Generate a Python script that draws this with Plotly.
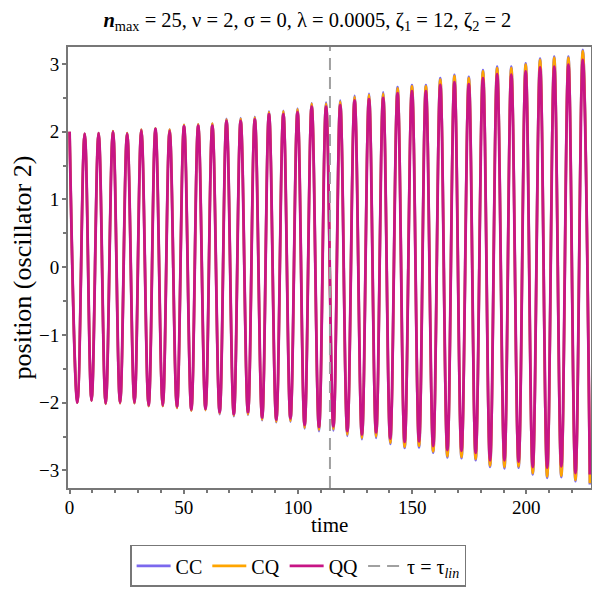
import plotly.graph_objects as go

# times of successive extrema (peak, trough, peak, ...)
ext_t = [0, 3.4, 6.6, 9.6, 12.7, 15.8, 19.0, 22.1, 25.2, 28.4, 31.4, 34.6, 37.6, 40.8,
         43.8, 47.0, 50.1, 53.3, 56.3, 59.5, 62.5, 65.7, 68.7, 71.9, 74.9, 78.1, 81.1,
         84.3, 87.3, 90.5, 93.6, 96.7, 99.8, 102.9, 106.0, 109.2, 112.3, 115.5, 118.5,
         121.6, 124.8, 128.0, 131.1, 134.2, 137.3, 140.4, 143.6, 146.7, 149.9, 153.0,
         156.0, 159.2, 162.3, 165.4, 168.5, 171.6, 174.8, 177.8, 181.0, 184.1, 187.2,
         190.4, 193.4, 196.6, 199.7, 202.8, 206.0, 209.1, 212.2, 215.3, 218.4, 221.5,
         224.7, 227.8]

cc_vals = [2.00, -2.00, 1.97, -1.97, 1.98, -2.02, 2.01, -2.01, 1.98, -2.01, 2.03, -2.05,
           2.05, -2.05, 2.03, -2.08, 2.10, -2.12, 2.11, -2.11, 2.12, -2.17, 2.19, -2.20,
           2.20, -2.18, 2.22, -2.26, 2.30, -2.29, 2.31, -2.28, 2.34, -2.38, 2.42, -2.42,
           2.43, -2.41, 2.46, -2.49, 2.53, -2.54, 2.56, -2.52, 2.58, -2.61, 2.66, -2.67,
           2.69, -2.66, 2.69, -2.74, 2.79, -2.81, 2.84, -2.82, 2.81, -2.85, 2.91, -2.95,
           2.96, -2.97, 2.96, -2.96, 3.01, -3.06, 3.08, -3.11, 3.11, -3.10, 3.11, -3.16,
           3.21, -3.21]

cq_vals = [2.00, -2.00, 1.97, -1.97, 1.98, -2.02, 2.01, -2.01, 1.98, -2.01, 2.03, -2.05,
           2.05, -2.05, 2.03, -2.08, 2.10, -2.12, 2.11, -2.11, 2.12, -2.16, 2.18, -2.19,
           2.19, -2.17, 2.21, -2.25, 2.29, -2.28, 2.30, -2.27, 2.33, -2.37, 2.41, -2.40,
           2.41, -2.39, 2.44, -2.47, 2.51, -2.52, 2.54, -2.50, 2.56, -2.59, 2.64, -2.65,
           2.67, -2.64, 2.67, -2.72, 2.77, -2.79, 2.82, -2.80, 2.79, -2.83, 2.89, -2.93,
           2.94, -2.95, 2.94, -2.94, 2.99, -3.04, 3.06, -3.09, 3.09, -3.08, 3.09, -3.14,
           3.19, -3.19]

qq_vals = [2.00, -2.00, 1.97, -1.97, 1.98, -2.01, 2.00, -2.00, 1.97, -2.00, 2.02, -2.04,
           2.04, -2.04, 2.01, -2.06, 2.08, -2.10, 2.09, -2.09, 2.09, -2.14, 2.16, -2.17,
           2.16, -2.14, 2.18, -2.22, 2.26, -2.25, 2.26, -2.23, 2.29, -2.33, 2.37, -2.36,
           2.37, -2.35, 2.39, -2.42, 2.46, -2.47, 2.48, -2.44, 2.50, -2.53, 2.57, -2.58,
           2.60, -2.57, 2.60, -2.64, 2.69, -2.70, 2.73, -2.71, 2.70, -2.74, 2.79, -2.85,
           2.85, -2.85, 2.84, -2.87, 2.89, -2.95, 2.95, -2.96, 2.96, -2.94, 2.99, -3.04,
           3.06, -3.06]

tau_lin = 114.0
x_ticks = [0, 50, 100, 150, 200]
y_ticks = [-3, -2, -1, 0, 1, 2, 3]
x_range = [-0.7, 228.3]
y_range = [-3.26, 3.25]

FONT = "Liberation Serif, Times New Roman, serif"
C_CC = "#7B68EE"
C_CQ = "#FFA500"
C_QQ = "#C71585"

fig = go.Figure()
for name, vals, col, w in [("CC", cc_vals, C_CC, 2.6), ("CQ", cq_vals, C_CQ, 2.6), ("QQ", qq_vals, C_QQ, 2.8)]:
    fig.add_trace(go.Scatter(x=ext_t, y=vals, mode="lines", name=name,
                             line=dict(color=col, width=w, shape="spline", smoothing=1.1)))

fig.add_trace(go.Scatter(x=[tau_lin, tau_lin], y=y_range, mode="lines",
                         name="τ = τ<sub><i>lin</i></sub>",
                         line=dict(color="#A0A0A0", width=2, dash="12px,7px")))

axis_common = dict(showline=True, linecolor="#777777", linewidth=2, mirror=True,
                   ticks="outside", ticklen=4, tickwidth=1.5, tickcolor="#777777",
                   showgrid=False, zeroline=False, automargin=False,
                   tickfont=dict(family=FONT, size=19, color="black"))

fig.update_xaxes(range=x_range, tickvals=x_ticks, ticklabelstandoff=-3,
                 minor=dict(dtick=10, ticks="outside", ticklen=3, tickcolor="#777777", tickwidth=1.5),
                 **axis_common)
fig.update_yaxes(range=y_range, tickvals=y_ticks, ticklabelstandoff=-1,
                 minor=dict(dtick=0.5, ticks="outside", ticklen=3, tickcolor="#777777", tickwidth=1.5),
                 title=dict(text="position (oscillator 2)", font=dict(family=FONT, size=26, color="black"), standoff=2),
                 **axis_common)

# x-axis title placed as an annotation so it can sit close to the tick labels
fig.add_annotation(text="time", xref="paper", yref="paper", x=0.5, y=-0.084,
                   xanchor="center", yanchor="middle", showarrow=False,
                   font=dict(family=FONT, size=21, color="black"))

fig.update_layout(
    width=600, height=600,
    margin=dict(l=60, r=17, t=39, b=120),
    plot_bgcolor="white", paper_bgcolor="white",
    title=dict(text="<b><i>n</i></b><sub>max</sub> = 25, ν = 2, σ = 0, λ = 0.0005, ζ<sub>1</sub> = 12, ζ<sub>2</sub> = 2",
               x=0.499, xanchor="center", y=0.981, yanchor="middle",
               font=dict(family=FONT, size=20.5, color="black")),
    legend=dict(orientation="h", x=0.44, xanchor="center", y=-0.129, yanchor="top",
                bordercolor="#777777", borderwidth=1.5, itemwidth=34,
                font=dict(family=FONT, size=20, color="black")),
)

fig.write_html("out.html")
